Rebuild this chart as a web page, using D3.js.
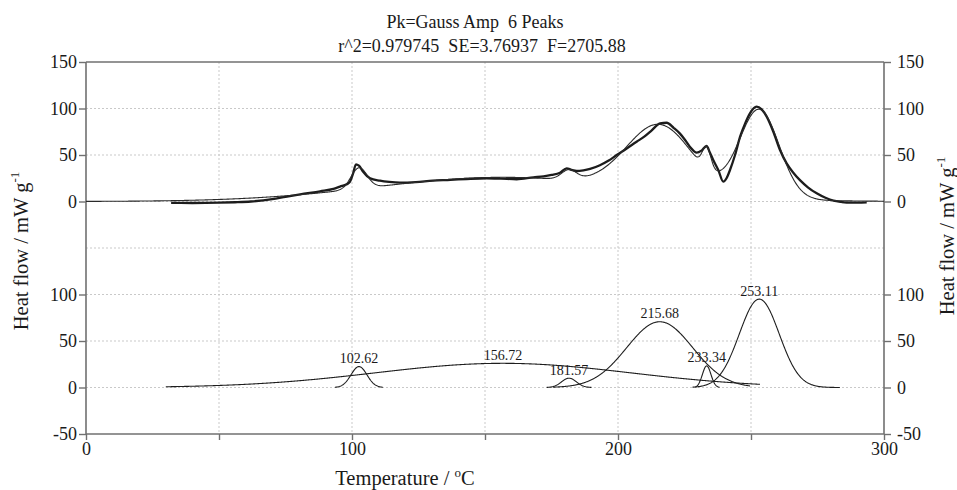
<!DOCTYPE html>
<html>
<head>
<meta charset="utf-8">
<script src="https://cdn.jsdelivr.net/npm/d3@7"></script>
<style>
  body { margin: 0; background: #fff; }
  text { font-family: "Liberation Serif", "Times New Roman", serif; fill: #1a1a1a; }
</style>
</head>
<body>
<svg id="chart" width="957" height="490"></svg>
<script>
// Measured DSC heat-flow trace (temperature in °C, heat flow in mW/g)
const measuredT = [32, 40, 50, 56, 62, 70, 75, 80.5, 88, 93, 95.5, 98, 99.2, 100.4, 101.5, 102.6, 104.2, 106.8, 110.5, 114, 118, 124, 130.4, 137, 143.1, 150.6, 156, 161.9, 168.2, 172, 175, 178.2, 180.7, 182.5, 184.5, 187, 189.5, 193.2, 196.5, 199.5, 203, 207, 210, 212.5, 215.8, 218.3, 221, 223.3, 225, 227, 229.6, 231.5, 233.3, 234.5, 235.8, 237.7, 239.6, 240.8, 242.1, 244, 245.9, 247.8, 249.6, 252.1, 254, 255.9, 258.4, 260.9, 263.4, 265.9, 268.4, 271.5, 274.7, 278, 281, 284, 287.2, 290, 293.5];
const measuredHF = [-1.5, -1.6, -1.3, -0.8, 0, 2.5, 5, 7.7, 11, 13.5, 16, 18.5, 21, 30, 40, 38.5, 32, 25, 22.4, 21, 20.2, 20.8, 22.4, 23.2, 24.2, 25, 24.6, 23.9, 26, 27, 28.5, 31, 35.7, 34, 32.8, 33.5, 35, 39, 44, 50, 56.5, 64.3, 70, 76, 84, 84.7, 79, 73, 67, 59, 52.5, 55, 59.7, 53, 44.6, 33.9, 21.3, 25, 33.9, 50, 69.7, 84, 94.8, 102, 99, 91.2, 75, 55.4, 41, 31, 23, 15, 8.8, 4, 0.9, -0.5, -1.3, -1.3, -0.9];

// Fitted Gaussian (amplitude form) components
const peakCenters = [102.62, 156.72, 181.57, 215.68, 233.34, 253.11];
const peakAmps    = [22.5, 26, 10, 70.7, 23.3, 95];
const peakWidths  = [3.0, 48, 2.8, 12.4, 1.6, 7.5];
const peakFrom    = [93.6, 30, 173.2, 175.6, 229, 228];
const peakTo      = [111.7, 253.4, 190.1, 249.6, 238.3, 283.5];

// Axis ticks
const xTicks = [0, 50, 100, 150, 200, 250, 300];
const xTickLabels = ["0", "", "100", "", "200", "", "300"];
const topTicks = [0, 50, 100, 150];
const bottomTicks = [-50, 0, 50, 100];
const gridX = [50, 100, 150, 200, 250];
const gridTop = [0, 50, 100];
const gridBottom = [0, 50, 100, 150];

const titleLines = ["Pk=Gauss Amp  6 Peaks", "r^2=0.979745  SE=3.76937  F=2705.88"];
const xTitle = "Temperature / ";
const yTitle = "Heat flow / mW g";

const L = 86, R = 884, T = 62, M = 248, B = 434;
const svg = d3.select("#chart");

const x = d3.scaleLinear().domain([0, 300]).range([L, R]);
const yTop = d3.scaleLinear().domain([-50, 150]).range([M, T]);
const yBot = d3.scaleLinear().domain([-50, 150]).range([B, M]);

const gauss = (t, i) => peakAmps[i] * Math.exp(-0.5 * Math.pow((t - peakCenters[i]) / peakWidths[i], 2));
const fitSum = t => d3.sum(peakCenters, (c, i) => gauss(t, i));
const plain = d => String(d);

// Grid
const grid = svg.append("g").attr("stroke", "#c9c9c9").attr("stroke-width", 1).attr("stroke-dasharray", "2,2");
grid.selectAll(".gx").data(gridX).join("line")
  .attr("x1", d => x(d)).attr("x2", d => x(d)).attr("y1", T).attr("y2", B);
grid.selectAll(".gt").data(gridTop).join("line")
  .attr("x1", L).attr("x2", R).attr("y1", d => yTop(d)).attr("y2", d => yTop(d));
grid.selectAll(".gb").data(gridBottom).join("line")
  .attr("x1", L).attr("x2", R).attr("y1", d => yBot(d)).attr("y2", d => yBot(d));

// Axes
function styleAxis(g) {
  g.select(".domain").remove();
  g.selectAll(".tick line").attr("stroke", "#707070").attr("stroke-width", 1.4);
  g.selectAll(".tick text").attr("font-size", 18).attr("fill", "#1a1a1a")
    .attr("font-family", "Liberation Serif, serif");
}
svg.append("g").attr("transform", `translate(${L},0)`)
  .call(d3.axisLeft(yTop).tickValues(topTicks).tickFormat(plain).tickSize(7).tickPadding(2)).call(styleAxis);
svg.append("g").attr("transform", `translate(${L},0)`)
  .call(d3.axisLeft(yBot).tickValues(bottomTicks).tickFormat(plain).tickSize(7).tickPadding(2)).call(styleAxis);
svg.append("g").attr("transform", `translate(${R},0)`)
  .call(d3.axisRight(yTop).tickValues(topTicks).tickFormat(plain).tickSize(7).tickPadding(6)).call(styleAxis);
svg.append("g").attr("transform", `translate(${R},0)`)
  .call(d3.axisRight(yBot).tickValues(bottomTicks).tickFormat(plain).tickSize(7).tickPadding(6)).call(styleAxis);
svg.append("g").attr("transform", `translate(0,${B})`)
  .call(d3.axisBottom(x).tickValues(xTicks).tickFormat((d, i) => xTickLabels[i]).tickSize(6).tickPadding(2))
  .call(styleAxis);

// Frame
const frame = svg.append("g").attr("stroke", "#707070").attr("stroke-width", 1.6).attr("fill", "none");
frame.append("line").attr("x1", L).attr("x2", L).attr("y1", T).attr("y2", B);
frame.append("line").attr("x1", R).attr("x2", R).attr("y1", T).attr("y2", B);
frame.append("line").attr("x1", L).attr("x2", R).attr("y1", T).attr("y2", T);
frame.append("line").attr("x1", L).attr("x2", R).attr("y1", B).attr("y2", B);

// Top panel: fitted envelope (thin) and measured trace (thick)
const fitT = d3.range(0, 300.001, 0.25);
svg.append("path")
  .datum(measuredT.map((t, i) => [t, measuredHF[i]]))
  .attr("d", d3.line().x(d => x(d[0])).y(d => yTop(d[1])).curve(d3.curveMonotoneX))
  .attr("fill", "none").attr("stroke", "#1c1c1c").attr("stroke-width", 2.3).attr("stroke-linejoin", "round");
svg.append("path")
  .datum(fitT.map(t => [t, fitSum(t)]))
  .attr("d", d3.line().x(d => x(d[0])).y(d => yTop(d[1])))
  .attr("fill", "none").attr("stroke", "#2a2a2a").attr("stroke-width", 1.1);

// Bottom panel: individual components
const lineBot = d3.line().x(d => x(d[0])).y(d => yBot(d[1]));
peakCenters.forEach((c, i) => {
  const pts = d3.range(peakFrom[i], peakTo[i] + 0.001, 0.2).map(t => [t, gauss(t, i)]);
  svg.append("path").datum(pts).attr("d", lineBot)
    .attr("fill", "none").attr("stroke", "#1e1e1e").attr("stroke-width", 1.1);
});
svg.append("g").selectAll("text").data(peakCenters).join("text")
  .attr("x", d => x(d)).attr("y", (d, i) => yBot(peakAmps[i]) - 3.5)
  .attr("text-anchor", "middle").attr("font-size", 14)
  .text(d => d.toFixed(2));

// Titles
svg.append("text").attr("x", 475).attr("y", 28).attr("text-anchor", "middle")
  .attr("font-size", 18).style("white-space", "pre").text(titleLines[0]);
svg.append("text").attr("x", 482).attr("y", 52).attr("text-anchor", "middle")
  .attr("font-size", 18).style("white-space", "pre").text(titleLines[1]);

const xt = svg.append("text").attr("x", 405).attr("y", 485).attr("text-anchor", "middle").attr("font-size", 20.5);
xt.append("tspan").text(xTitle);
xt.append("tspan").attr("font-size", 13).attr("dy", -8).text("o");
xt.append("tspan").attr("dy", 8).text("C");

function yLabel(px, py) {
  const t = svg.append("text").attr("transform", `translate(${px},${py}) rotate(-90)`)
    .attr("text-anchor", "middle").attr("font-size", 20.5);
  t.append("tspan").text(yTitle);
  t.append("tspan").attr("font-size", 13).attr("dy", -9).text("-1");
}
yLabel(28, 251);
yLabel(954, 236);
</script>
</body>
</html>
